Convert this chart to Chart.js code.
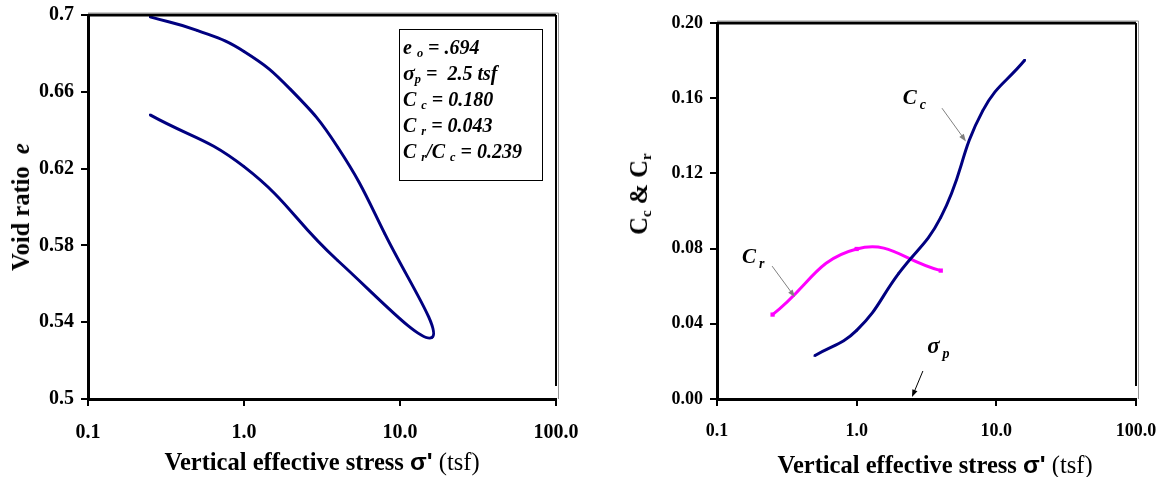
<!DOCTYPE html>
<html>
<head>
<meta charset="utf-8">
<script src="https://cdn.jsdelivr.net/npm/chart.js@4.4.1/dist/chart.umd.min.js"></script>
<style>
  body { margin: 0; background: #fff; }
  #wrap { position: relative; width: 1167px; height: 477px; overflow: hidden; }
  canvas { position: absolute; top: 0; }
  .title { position: absolute; font: bold 24.5px "Liberation Serif", serif; color: #000; white-space: nowrap; transform: translate(-50%, -50%); }
  .ytitle { transform: translate(-50%, -50%) rotate(-90deg); }
  .sig { font-family: "Liberation Sans", sans-serif; }
  .reg { font-weight: normal; }
  sub { font-size: 0.62em; vertical-align: -0.25em; line-height: 0; }
  #statBox { position: absolute; left: 399px; top: 29px; width: 144px; height: 152px; box-sizing: border-box;
             border: 1px solid #000; padding: 4px 0 0 3px; font: italic bold 20px "Liberation Serif", serif; line-height: 26px; color: #000; }
  .bigsig { font-size: 22px; }
</style>
</head>
<body>
<div id="wrap">
  <canvas id="voidChart" width="580" height="477" style="left:0"></canvas>
  <canvas id="coefChart" width="587" height="477" style="left:580px"></canvas>

  <div id="statBox">
    <div>e <sub>o</sub> = .694</div>
    <div><span class="bigsig">σ</span><sub>p</sub> =&nbsp; 2.5 tsf</div>
    <div>C <sub>c</sub> = 0.180</div>
    <div>C <sub>r</sub> = 0.043</div>
    <div>C <sub>r</sub>/C <sub>c</sub> = 0.239</div>
  </div>

  <div class="title ytitle" style="left:21px; top:207px">Void ratio &nbsp;<i>e</i></div>
  <div class="title" style="left:322px; top:462px">Vertical effective stress <span class="sig">σ'</span> <span class="reg">(tsf)</span></div>
  <div class="title ytitle" style="left:639px; top:194px">C<sub>c</sub> &amp; C<sub>r</sub></div>
  <div class="title" style="left:935px; top:465px">Vertical effective stress <span class="sig">σ'</span> <span class="reg">(tsf)</span></div>
</div>

<script>
// consolidation test: e - log(sigma') and Cc / Cr vs stress

const stressTicks = [0.1, 1, 10, 100];
const stressTickLabels = ['0.1', '1.0', '10.0', '100.0'];

const voidTicks = [0.5, 0.54, 0.58, 0.62, 0.66, 0.7];
const voidTickLabels = ['0.5', '0.54', '0.58', '0.62', '0.66', '0.7'];

const coefTicks = [0, 0.04, 0.08, 0.12, 0.16, 0.2];
const coefTickLabels = ['0.00', '0.04', '0.08', '0.12', '0.16', '0.20'];

// loading branch then unloading branch (starts from 16 tsf)
const stressLoad = [0.25, 0.5, 1, 2, 4, 8, 16];
const voidLoad = [0.699, 0.692, 0.681, 0.661, 0.631, 0.586, 0.532];
const stressUnload = [4, 1, 0.25];
const voidUnload = [0.572, 0.621, 0.648];

const stressCc = [0.5, 1, 2, 4, 8, 16];
const valuesCc = [0.023, 0.0365, 0.0668, 0.0966, 0.1534, 0.1803];
const stressCr = [0.25, 1, 4];
const valuesCr = [0.0449, 0.0798, 0.0683];

const NAVY = '#000080';
const MAGENTA = '#FF00FF';

const toPoints = (xs, ys) => xs.map((v, i) => ({ x: v, y: ys[i] }));

function drawArrow(ctx, x1, y1, x2, y2, color) {
    const ang = Math.atan2(y2 - y1, x2 - x1);
    const len = 8;
    ctx.strokeStyle = color;
    ctx.fillStyle = color;
    ctx.lineWidth = 1;
    ctx.beginPath();
    ctx.moveTo(x1, y1);
    ctx.lineTo(x2 - Math.cos(ang) * 4, y2 - Math.sin(ang) * 4);
    ctx.stroke();
    ctx.beginPath();
    ctx.moveTo(x2, y2);
    ctx.lineTo(x2 - len * Math.cos(ang - 0.35), y2 - len * Math.sin(ang - 0.35));
    ctx.lineTo(x2 - len * Math.cos(ang + 0.35), y2 - len * Math.sin(ang + 0.35));
    ctx.closePath();
    ctx.fill();
}

// labels and arrows placed in data coordinates
const notesPlugin = {
    id: 'notes',
    afterDatasetsDraw(chart, args, opts) {
        const { ctx } = chart;
        const sx = chart.scales.x, sy = chart.scales.y;
        ctx.save();
        (opts.arrows || []).forEach(a => {
            drawArrow(ctx,
                sx.getPixelForValue(a.from[0]), sy.getPixelForValue(a.from[1]),
                sx.getPixelForValue(a.to[0]), sy.getPixelForValue(a.to[1]), a.color);
        });
        (opts.labels || []).forEach(l => {
            const px = sx.getPixelForValue(l.at[0]);
            const py = sy.getPixelForValue(l.at[1]);
            ctx.fillStyle = '#000';
            ctx.textBaseline = 'alphabetic';
            ctx.textAlign = 'left';
            ctx.font = l.font;
            ctx.fillText(l.main, px, py);
            const w = ctx.measureText(l.main).width;
            ctx.font = l.subFont;
            ctx.fillText(l.sub, px + w + 3, py + 5);
        });
        ctx.restore();
    }
};

// top and right edges of the plot box
const framePlugin = {
    id: 'frame',
    afterDraw(chart) {
        const { ctx, chartArea: a } = chart;
        ctx.save();
        ctx.strokeStyle = '#000';
        ctx.lineWidth = 3;
        ctx.beginPath();
        ctx.moveTo(a.left, a.top);
        ctx.lineTo(a.right, a.top);
        ctx.stroke();
        ctx.lineWidth = 2;
        ctx.beginPath();
        ctx.moveTo(a.right, a.top);
        ctx.lineTo(a.right, a.bottom - 13);
        ctx.stroke();
        ctx.strokeStyle = '#999';
        ctx.lineWidth = 1;
        ctx.beginPath();
        ctx.moveTo(a.left, a.top - 2);
        ctx.lineTo(a.right + 2.5, a.top - 2);
        ctx.lineTo(a.right + 2.5, a.bottom);
        ctx.stroke();
        ctx.restore();
    }
};

function axisScales(yTicks, yLabels, fontSize, yWidth) {
    const tickFont = { family: 'Liberation Serif', size: fontSize, weight: 'bold' };
    const gridOpts = { drawOnChartArea: false, drawTicks: true, tickLength: 7, color: '#000', lineWidth: 2 };
    return {
        x: {
            type: 'logarithmic',
            min: 0.1,
            max: 100,
            border: { color: '#000', width: 3 },
            grid: gridOpts,
            ticks: {
                font: tickFont, color: '#000', padding: 15, maxRotation: 0,
                callback: (v, i) => stressTickLabels[i]
            },
            afterBuildTicks: s => { s.ticks = stressTicks.map(v => ({ value: v })); },
            afterFit: s => { s.height = 50; s.paddingLeft = 0; s.paddingRight = 0; }
        },
        y: {
            type: 'linear',
            min: yTicks[0],
            max: yTicks[yTicks.length - 1],
            border: { color: '#000', width: 3 },
            grid: gridOpts,
            ticks: {
                font: tickFont, color: '#000', padding: 7,
                callback: (v, i) => yLabels[i]
            },
            afterBuildTicks: s => { s.ticks = yTicks.map(v => ({ value: v })); },
            afterFit: s => { s.width = yWidth; s.paddingTop = 0; s.paddingBottom = 0; }
        }
    };
}

new Chart(document.getElementById('voidChart'), {
    type: 'scatter',
    data: {
        datasets: [{
            label: 'e',
            data: toPoints(stressLoad.concat(stressUnload), voidLoad.concat(voidUnload)),
            showLine: true,
            borderColor: NAVY,
            backgroundColor: NAVY,
            borderWidth: 3,
            tension: 0.45,
            pointStyle: 'rect',
            pointRadius: 1.5,
            pointBorderWidth: 0
        }]
    },
    options: {
        responsive: false,
        animation: false,
        layout: { padding: { left: 28, right: 24, top: 15, bottom: 28 } },
        scales: axisScales(voidTicks, voidTickLabels, 20, 60),
        plugins: { legend: { display: false }, tooltip: { enabled: false } }
    },
    plugins: [framePlugin]
});

new Chart(document.getElementById('coefChart'), {
    type: 'scatter',
    data: {
        datasets: [{
            label: 'Cc',
            data: toPoints(stressCc, valuesCc),
            showLine: true,
            borderColor: NAVY,
            backgroundColor: NAVY,
            borderWidth: 3,
            tension: 0.45,
            pointStyle: 'rect',
            pointRadius: 1.5,
            pointBorderWidth: 0
        }, {
            label: 'Cr',
            data: toPoints(stressCr, valuesCr),
            showLine: true,
            borderColor: MAGENTA,
            backgroundColor: MAGENTA,
            borderWidth: 3,
            tension: 0.45,
            pointStyle: 'rect',
            pointRadius: 3,
            pointBorderWidth: 0
        }]
    },
    options: {
        responsive: false,
        animation: false,
        layout: { padding: { left: 67, right: 31, top: 23, bottom: 28 } },
        scales: axisScales(coefTicks, coefTickLabels, 18, 70),
        plugins: {
            legend: { display: false },
            tooltip: { enabled: false },
            notes: {
                labels: [
                    { main: 'C', sub: 'c', at: [2.14, 0.157], font: 'italic bold 21px Liberation Serif', subFont: 'italic bold 14px Liberation Serif' },
                    { main: 'C', sub: 'r', at: [0.151, 0.0725], font: 'italic bold 21px Liberation Serif', subFont: 'italic bold 14px Liberation Serif' },
                    { main: 'σ', sub: 'p', at: [3.2, 0.0245], font: 'italic bold 23px Liberation Serif', subFont: 'italic bold 14px Liberation Serif' }
                ],
                arrows: [
                    { from: [4.08, 0.1547], to: [6.06, 0.137], color: '#808080' },
                    { from: [0.248, 0.0707], to: [0.361, 0.0542], color: '#808080' },
                    { from: [2.98, 0.0149], to: [2.49, 0.001], color: '#000' }
                ]
            }
        }
    },
    plugins: [framePlugin, notesPlugin]
});
</script>
</body>
</html>
